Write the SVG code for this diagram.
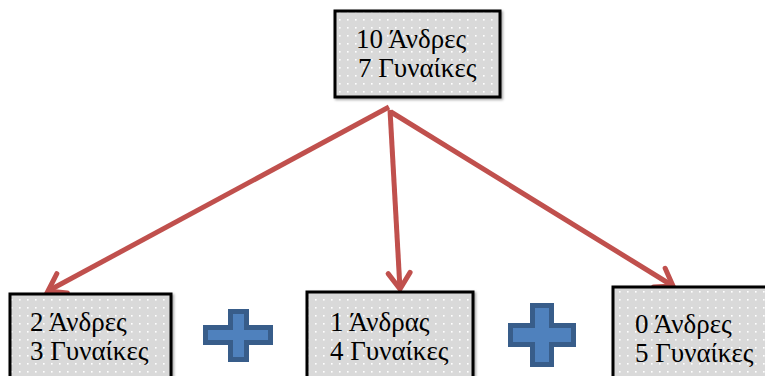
<svg xmlns="http://www.w3.org/2000/svg" width="765" height="376" viewBox="0 0 765 376">
<defs>
<pattern id="dots" x="0" y="0" width="8" height="8" patternUnits="userSpaceOnUse">
<rect width="8" height="8" fill="#D9D9D9"/>
<rect x="3" y="3" width="1.6" height="1.6" fill="#FFFFFF"/>
</pattern>
<marker id="arr" markerUnits="userSpaceOnUse" markerWidth="40" markerHeight="40" refX="0" refY="0" viewBox="-20 -20 40 40" orient="auto" overflow="visible">
<path d="M -16 -11 L 0 0 L -16 11" fill="none" stroke="#C0504D" stroke-width="5" stroke-linejoin="miter" stroke-linecap="round"/>
</marker>
<filter id="sh" x="-10%" y="-10%" width="130%" height="130%">
<feDropShadow dx="1.5" dy="1.5" stdDeviation="1" flood-color="#000" flood-opacity="0.35"/>
</filter>
</defs>
<style>
.box{fill:url(#dots);stroke:#000;stroke-width:3;filter:url(#sh)}
.t{font-family:"Liberation Serif","Times New Roman",serif;font-size:27px;fill:#000}
.plus{fill:#4F81BD;stroke:#385D8A;stroke-width:5;stroke-linejoin:miter}
.conn{stroke:#C0504D;stroke-width:5;fill:none;marker-end:url(#arr)}
</style>
<g id="connectors">
<line class="conn" x1="389" y1="107" x2="48" y2="291"/>
<line class="conn" x1="390" y1="110" x2="400" y2="289"/>
<line class="conn" x1="391" y1="112" x2="673" y2="286"/>
</g>
<g id="node-top">
<rect class="box" x="335" y="11" width="165" height="86"/>
<text class="t" x="356" y="48">10 Άνδρες</text>
<text class="t" x="358" y="77">7 Γυναίκες</text>
</g>
<g id="node-left">
<rect class="box" x="10" y="294" width="161" height="100"/>
<text class="t" x="30" y="331">2 Άνδρες</text>
<text class="t" x="30" y="360">3 Γυναίκες</text>
</g>
<g id="node-middle">
<rect class="box" x="307" y="292" width="166" height="100"/>
<text class="t" x="330" y="331">1 Άνδρας</text>
<text class="t" x="330" y="360">4 Γυναίκες</text>
</g>
<g id="node-right">
<rect class="box" x="613" y="287" width="170" height="100"/>
<text class="t" x="635" y="333">0 Άνδρες</text>
<text class="t" x="635" y="362">5 Γυναίκες</text>
</g>
<g id="plus-1">
<path class="plus" d="M230.5 311.5 H246.5 V327.5 H270.5 V342.5 H246.5 V359.5 H230.5 V342.5 H205.5 V327.5 H230.5 Z"/>
</g>
<g id="plus-2">
<path class="plus" d="M532.5 305.5 H551.5 V325.5 H573.5 V344.5 H551.5 V364.5 H532.5 V344.5 H510.5 V325.5 H532.5 Z"/>
</g>
</svg>
